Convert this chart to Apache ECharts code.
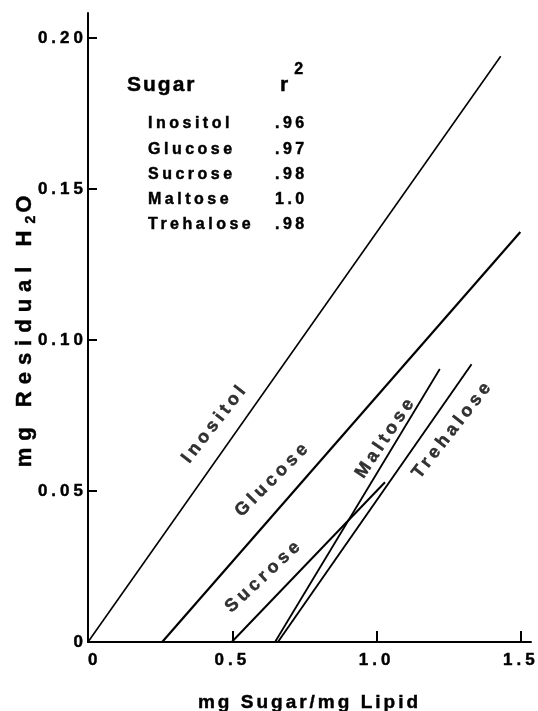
<!DOCTYPE html>
<html>
<head>
<meta charset="utf-8">
<script src="https://cdn.jsdelivr.net/npm/echarts@6/dist/echarts.min.js"></script>
<style>
  html, body { margin: 0; padding: 0; background: #fff; }
  #chart { width: 538px; height: 711px; }
</style>
</head>
<body>
<div id="chart"></div>
<script>
// Residual water retained by lipid as a function of added sugar, one fitted line per sugar
const sugars = ['Inositol', 'Glucose', 'Sucrose', 'Maltose', 'Trehalose'];
const rSquared = ['.96', '.97', '.98', '1.0', '.98'];

// endpoints of each regression line: [mg sugar / mg lipid, mg residual H2O]
const inositolLine = [[0, 0], [1.43, 0.194]];
const glucoseLine = [[0.257, 0], [1.498, 0.1358]];
const sucroseLine = [[0.498, 0], [1.029, 0.0529]];
const maltoseLine = [[0.648, 0], [1.219, 0.0904]];
const trehaloseLine = [[0.658, 0], [1.329, 0.092]];

const xTicks = [0, 0.5, 1.0, 1.5];
const xTickLabels = ['0', '0.5', '1.0', '1.5'];
const yTicks = [0, 0.05, 0.10, 0.15, 0.20];
const yTickLabels = ['0', '0.05', '0.10', '0.15', '0.20'];

// Typeset look: wide letter tracking on canvas text, chosen by font size and
// applied to measuring and drawing alike so ECharts' text layout stays consistent.
const TRACKING_BY_SIZE = { 14: 3, 16: 3.5, 17: 4, 18: 4, 19: 3, 21: 2, 22: 7 };
(function () {
  const proto = CanvasRenderingContext2D.prototype;
  ['fillText', 'strokeText', 'measureText'].forEach(function (fn) {
    const base = proto[fn];
    proto[fn] = function () {
      if ('letterSpacing' in this) {
        const m = /(\d+(?:\.\d+)?)px/.exec(this.font || '');
        const size = m ? Math.round(parseFloat(m[1])) : 0;
        const t = TRACKING_BY_SIZE[size] != null ? TRACKING_BY_SIZE[size] : 3;
        this.letterSpacing = t + 'px';
      }
      return base.apply(this, arguments);
    };
  });
})();

const FONT = "'Liberation Sans', Arial, Helvetica, sans-serif";
const INK = '#000';
const WEIGHT_STROKE = 0.45; // slight outline so the bold type reads as heavy as print

const lineLayout = {
  Inositol:  { data: inositolLine,  width: 1.6, label: [0.440, 0.0725], rotate: 52 },
  Glucose:   { data: glucoseLine,   width: 2.2, label: [0.641, 0.0540], rotate: 45 },
  Sucrose:   { data: sucroseLine,   width: 2.0, label: [0.610, 0.0219], rotate: 43 },
  Maltose:   { data: maltoseLine,   width: 1.8, label: [1.032, 0.0679], rotate: 56 },
  Trehalose: { data: trehaloseLine, width: 1.9, label: [1.264, 0.0705], rotate: 52 }
};

function pickLabel(ticks, labels, v) {
  for (let i = 0; i < ticks.length; i++) {
    if (Math.abs(ticks[i] - v) < 1e-9) return labels[i];
  }
  return '';
}

const lineSeries = sugars.map(function (name) {
  const cfg = lineLayout[name];
  return {
    name: name,
    type: 'line',
    data: cfg.data,
    symbol: 'none',
    silent: true,
    lineStyle: { color: INK, width: cfg.width },
    z: 2
  };
});

const labelSeries = {
  type: 'scatter',
  symbolSize: 0,
  silent: true,
  data: sugars.map(function (name) {
    const cfg = lineLayout[name];
    return { name: name, value: cfg.label, label: { rotate: cfg.rotate } };
  }),
  label: {
    show: true,
    position: 'inside',
    formatter: '{b}',
    color: INK,
    fontFamily: FONT,
    fontWeight: 'bold',
    fontSize: 18,
    textBorderColor: INK,
    textBorderWidth: WEIGHT_STROKE
  },
  z: 3
};

function plainText(x, y, text, size) {
  return {
    type: 'text', x: x, y: y,
    style: {
      text: text, fill: INK, font: 'bold ' + size + 'px ' + FONT,
      align: 'left', verticalAlign: 'middle',
      stroke: INK, lineWidth: WEIGHT_STROKE
    }
  };
}

// r-squared table in the upper left
const tableTop = 124;
const rowGap = 25.2;
const overlay = [
  plainText(127, 85, 'Sugar', 21),
  {
    type: 'text', x: 280, y: 85,
    style: {
      text: '{r|r}{sup|2}',
      align: 'left', verticalAlign: 'middle',
      stroke: INK, lineWidth: WEIGHT_STROKE,
      rich: {
        r: { fontFamily: FONT, fontWeight: 'bold', fontSize: 21, lineHeight: 50, verticalAlign: 'middle', fill: INK },
        sup: { fontFamily: FONT, fontWeight: 'bold', fontSize: 16, lineHeight: 16, verticalAlign: 'top', fill: INK, padding: [0, 0, 0, 4] }
      }
    }
  }
];
sugars.forEach(function (name, i) {
  overlay.push(plainText(148, tableTop + i * rowGap, name, 16));
  overlay.push(plainText(275, tableTop + i * rowGap, rSquared[i], 16));
});

// vertical axis title with the subscript in H2O
overlay.push({
  type: 'text', x: 25, y: 328, rotation: Math.PI / 2,
  style: {
    text: '{a|mg Residual H}{s|2}{a|O}',
    align: 'center', verticalAlign: 'middle',
    stroke: INK, lineWidth: WEIGHT_STROKE,
    rich: {
      a: { fontFamily: FONT, fontWeight: 'bold', fontSize: 22, lineHeight: 30, verticalAlign: 'middle', fill: INK },
      s: { fontFamily: FONT, fontWeight: 'bold', fontSize: 14, lineHeight: 14, verticalAlign: 'bottom', fill: INK }
    }
  }
});

const tickText = {
  color: INK, fontFamily: FONT, fontWeight: 'bold', fontSize: 17,
  textBorderColor: INK, textBorderWidth: WEIGHT_STROKE
};

const axisCommon = {
  type: 'value',
  splitLine: { show: false },
  axisLine: { show: true, lineStyle: { color: INK, width: 2 } },
  axisTick: { show: true, inside: true, lineStyle: { color: INK, width: 2 } }
};

const chart = echarts.init(document.getElementById('chart'), null, { renderer: 'canvas' });
chart.setOption({
  animation: false,
  backgroundColor: '#fff',
  grid: { left: 88, right: 7, top: 13, bottom: 69, containLabel: false, outerBoundsMode: 'none' },
  xAxis: Object.assign({}, axisCommon, {
    min: 0,
    max: 1.535,
    axisTick: Object.assign({}, axisCommon.axisTick, { length: 11, customValues: xTicks }),
    axisLabel: Object.assign({
      customValues: xTicks,
      formatter: function (v) { return pickLabel(xTicks, xTickLabels, v); },
      margin: 8,
      alignMinLabel: 'left'
    }, tickText),
    name: 'mg Sugar/mg Lipid',
    nameLocation: 'middle',
    nameGap: 50,
    nameTextStyle: {
      color: INK, fontFamily: FONT, fontWeight: 'bold', fontSize: 19,
      textBorderColor: INK, textBorderWidth: WEIGHT_STROKE
    }
  }),
  yAxis: Object.assign({}, axisCommon, {
    min: 0,
    max: 0.2083,
    axisTick: Object.assign({}, axisCommon.axisTick, { length: 9, customValues: yTicks }),
    axisLabel: Object.assign({
      customValues: yTicks,
      formatter: function (v) { return pickLabel(yTicks, yTickLabels, v); },
      margin: 1
    }, tickText)
  }),
  graphic: overlay,
  series: lineSeries.concat([labelSeries])
});
</script>
</body>
</html>
